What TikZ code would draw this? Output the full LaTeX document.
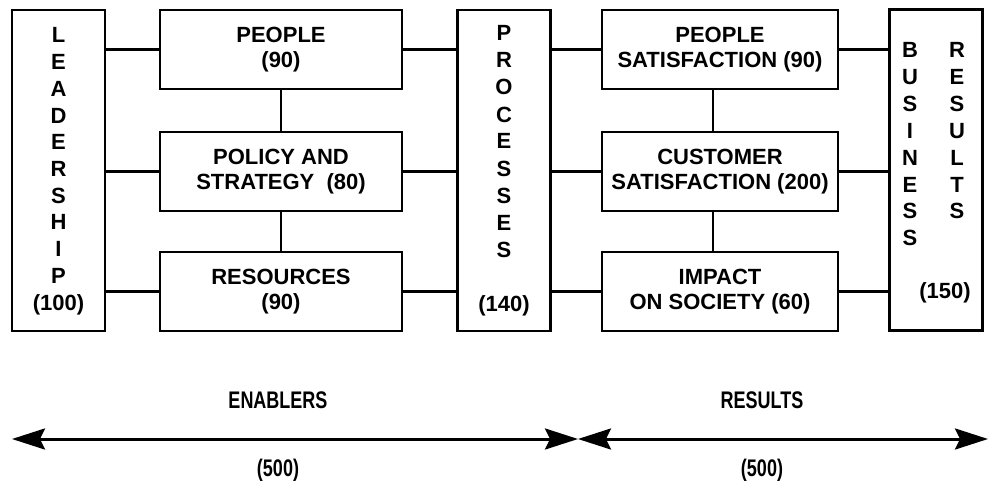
\documentclass[tikz,border=0pt]{standalone}
\usepackage{fontspec}
\setmainfont{Liberation Sans}
\usetikzlibrary{arrows.meta}
\begin{document}
\begin{tikzpicture}[x=1pt,y=-1pt,
  box/.style={draw,line width=2.4pt,inner sep=0pt,align=center,
    font=\bfseries\fontsize{22}{24.5}\selectfont},
  sidebox/.style={box,minimum width=93pt,minimum height=321pt},
  midbox/.style={box,minimum width=242pt,minimum height=79pt},
  rightbox/.style={box,minimum width=236pt,minimum height=79pt},
  letter/.style={anchor=base,inner sep=0pt,font=\bfseries\fontsize{22}{24}\selectfont},
  link/.style={line width=2.4pt},
  span/.style={line width=3pt,
    {Stealth[length=33pt,width=21pt,inset=5pt]}-{Stealth[length=33pt,width=21pt,inset=5pt]}},
  caption/.style={inner sep=0pt,xscale=0.75,font=\bfseries\fontsize{24}{26}\selectfont}
]
\useasboundingbox (0,0) rectangle (989,495);

% enablers
\node[sidebox] (lead) at (58.5,170.5) {};
\node[midbox] (people) at (281,49.5) {PEOPLE\\(90)};
\node[midbox] (policy) at (281,171.5) {POLICY AND\\STRATEGY\ \ (80)};
\node[midbox] (resources) at (281,291.5) {RESOURCES\\(90)};
\node[sidebox] (proc) at (504,170.5) {};

% results
\node[rightbox] (psat) at (720,49.5) {PEOPLE\\SATISFACTION (90)};
\node[rightbox] (csat) at (720,171.5) {CUSTOMER\\SATISFACTION (200)};
\node[rightbox] (impact) at (720,291.5) {IMPACT\\ON SOCIETY (60)};
\node[sidebox] (biz) at (936,170) {};

% stacked titles
\foreach \ch [count=\i from 0] in {L,E,A,D,E,R,S,H,I,P}
  \node[letter] (lead-\i) at (58.5,{43+26.7*\i}) {\ch};
\node[letter] (lead-w) at (58.5,310) {(100)};

\foreach \ch [count=\i from 0] in {P,R,O,C,E,S,S,E,S}
  \node[letter] (proc-\i) at (504,{41+27*\i}) {\ch};
\node[letter] (proc-w) at (504,311) {(140)};

\foreach \ch [count=\i from 0] in {B,U,S,I,N,E,S,S}
  \node[letter] (biz-\i) at (910,{58+26.8*\i}) {\ch};
\foreach \ch [count=\i from 0] in {R,E,S,U,L,T,S}
  \node[letter] (res-\i) at (957,{58+26.8*\i}) {\ch};
\node[letter] (biz-w) at (945,298) {(150)};

% connectors
\foreach \b in {people,policy,resources}{
  \draw[link] (lead.east |- \b.west) -- (\b.west);
  \draw[link] (\b.east) -- (proc.west |- \b.east);
}
\foreach \b in {psat,csat,impact}{
  \draw[link] (proc.east |- \b.west) -- (\b.west);
  \draw[link] (\b.east) -- (biz.west |- \b.east);
}
\draw[link] (people.south) -- (policy.north);
\draw[link] (policy.south) -- (resources.north);
\draw[link] ([xshift=-7pt]psat.south) -- ([xshift=-7pt]csat.north);
\draw[link] ([xshift=-7pt]csat.south) -- ([xshift=-7pt]impact.north);

% enablers / results span
\coordinate (eL) at (12,439);
\coordinate (eM) at (578,439);
\coordinate (eR) at (988,439);
\draw[span] (eL) -- (eM);
\draw[span] (eM) -- (eR);
\node[caption] (enab) at (278,400) {ENABLERS};
\node[caption] (resl) at (762,400) {RESULTS};
\node[caption] (enabw) at (278,470) {(500)};
\node[caption] (reslw) at (762,470) {(500)};
\end{tikzpicture}
\end{document}
